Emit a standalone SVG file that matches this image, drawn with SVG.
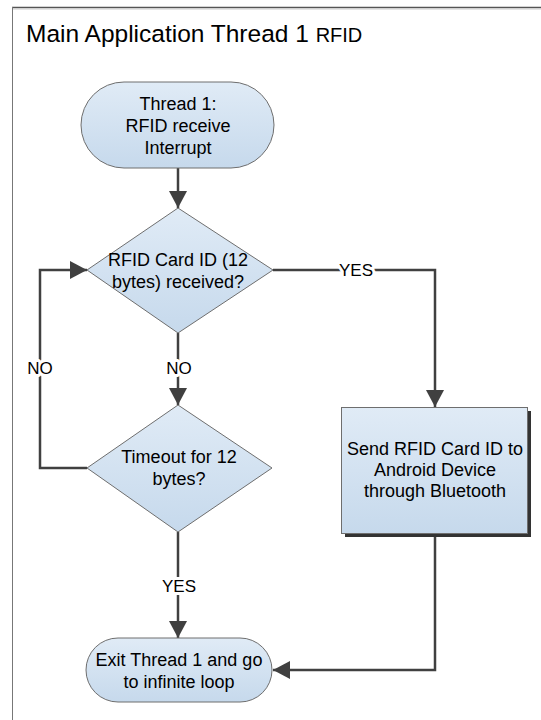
<svg xmlns="http://www.w3.org/2000/svg" width="541" height="720" viewBox="0 0 541 720">
<defs>
<linearGradient id="fill" x1="0" y1="0" x2="0" y2="1">
<stop offset="0" stop-color="#e0ebf6"/>
<stop offset="1" stop-color="#c6d9ec"/>
</linearGradient>
<marker id="arr" markerUnits="userSpaceOnUse" markerWidth="17" markerHeight="18" refX="17" refY="9" orient="auto">
<path d="M0,0 L17,9 L0,18 z" fill="#404040"/>
</marker>
<style>
.shape{fill:url(#fill);stroke:#6e6e6e;stroke-width:1}
.t{font-family:"Liberation Sans",Arial,sans-serif;font-size:18px;fill:#000;text-anchor:middle}
.lbl{font-family:"Liberation Sans",Arial,sans-serif;font-size:17px;fill:#000;text-anchor:middle;stroke:#fff;stroke-width:6px;paint-order:stroke;stroke-linejoin:round}
.c{fill:none;stroke:#404040;stroke-width:2.5}
</style>
</defs>
<rect width="541" height="720" fill="#fff"/>
<g id="frame">
<line x1="12" y1="7.5" x2="541" y2="7.5" stroke="#555" stroke-width="1.5"/>
<line x1="12" y1="9" x2="541" y2="9" stroke="#ccc" stroke-width="1"/>
<line x1="12.5" y1="7" x2="12.5" y2="720" stroke="#777" stroke-width="1"/>
</g>
<text id="title" x="26" y="42" font-family="'Liberation Sans',Arial,sans-serif" font-size="24.5" fill="#000">Main Application Thread 1 <tspan font-size="20">RFID</tspan></text>
<g id="connectors">
<path class="c" d="M178,168 V208" marker-end="url(#arr)"/>
<path class="c" d="M178,333 V405" marker-end="url(#arr)"/>
<path class="c" d="M87,468 H40 V270 H87" marker-end="url(#arr)"/>
<path class="c" d="M273,270 H435 V407" marker-end="url(#arr)"/>
<path class="c" d="M178,532 V638" marker-end="url(#arr)"/>
<path class="c" d="M435,533 V670 H273" marker-end="url(#arr)"/>
<text class="lbl" x="179" y="374">NO</text>
<text class="lbl" x="40" y="374">NO</text>
<text class="lbl" x="356" y="276">YES</text>
<text class="lbl" x="179" y="592">YES</text>
</g>
<g id="start">
<rect class="shape" x="81" y="82" width="193" height="86" rx="43" ry="43"/>
<text class="t" x="178" y="110">Thread 1:</text>
<text class="t" x="178" y="132">RFID receive</text>
<text class="t" x="178" y="154">Interrupt</text>
</g>
<g id="decision1">
<polygon class="shape" points="178,208 273,270 178,333 87,270"/>
<text class="t" x="178" y="266">RFID Card ID (12</text>
<text class="t" x="178" y="288">bytes) received?</text>
</g>
<g id="decision2">
<polygon class="shape" points="178,405 272,468 178,532 87,468"/>
<text class="t" x="179" y="463">Timeout for 12</text>
<text class="t" x="179" y="485">bytes?</text>
</g>
<g id="send">
<rect x="345" y="411" width="186" height="126" fill="#333"/>
<rect class="shape" x="341.5" y="407.5" width="186" height="126"/>
<text class="t" x="435" y="455">Send RFID Card ID to</text>
<text class="t" x="435" y="476">Android Device</text>
<text class="t" x="435" y="497">through Bluetooth</text>
</g>
<g id="end">
<rect class="shape" x="86" y="638" width="186" height="64" rx="32" ry="32"/>
<text class="t" x="179" y="666">Exit Thread 1 and go</text>
<text class="t" x="179" y="688">to infinite loop</text>
</g>
</svg>
